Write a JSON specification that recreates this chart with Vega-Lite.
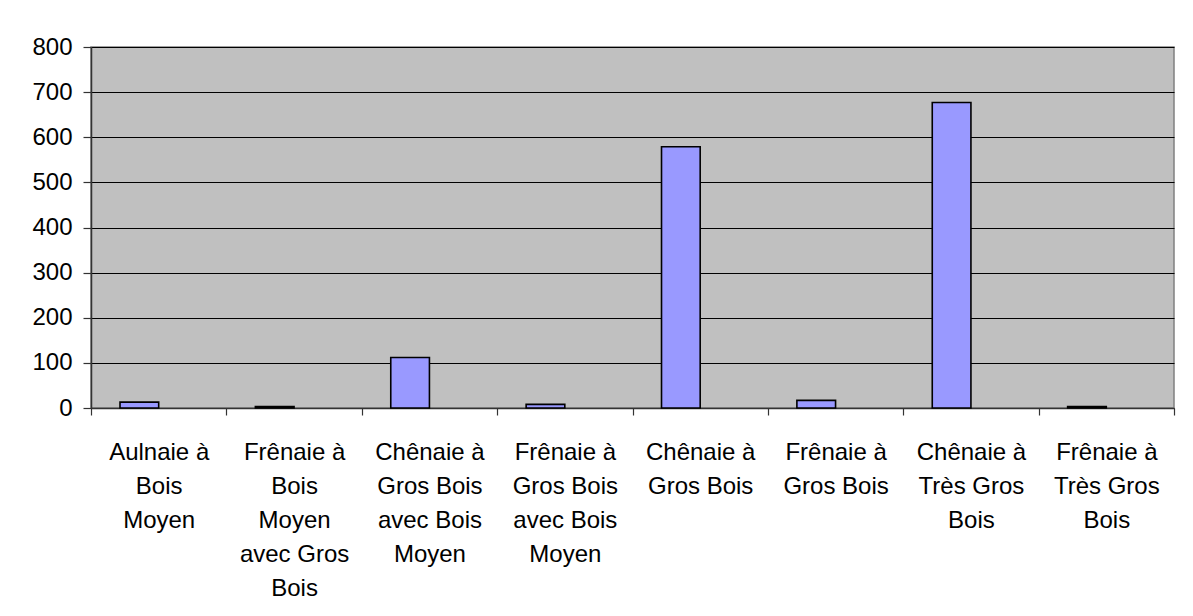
{
  "$schema": "https://vega.github.io/schema/vega-lite/v6.json",
  "autosize": {"type": "none"},
  "width": 1083,
  "height": 361,
  "padding": {"left": 91, "top": 47, "right": 19, "bottom": 208},
  "background": "white",
  "config": {
    "view": {"fill": "#C0C0C0", "stroke": "#808080", "strokeWidth": 1.5},
    "font": "Liberation Sans"
  },
  "data": {
    "values": [
      {"formation": "Aulnaie à Bois Moyen", "valeur": 13},
      {"formation": "Frênaie à Bois Moyen avec Gros Bois", "valeur": 3},
      {"formation": "Chênaie à Gros Bois avec Bois Moyen", "valeur": 112},
      {"formation": "Frênaie à Gros Bois avec Bois Moyen", "valeur": 8},
      {"formation": "Chênaie à Gros Bois", "valeur": 579},
      {"formation": "Frênaie à Gros Bois", "valeur": 17},
      {"formation": "Chênaie à Très Gros Bois", "valeur": 677},
      {"formation": "Frênaie à Très Gros Bois", "valeur": 3}
    ]
  },
  "mark": {"type": "bar", "fill": "#9999FF", "stroke": "#000000", "strokeWidth": 1.6},
  "encoding": {
    "x": {
      "field": "formation",
      "type": "nominal",
      "sort": null,
      "scale": {"paddingInner": 0, "paddingOuter": 0},
      "axis": {
        "title": null,
        "labelAngle": 0,
        "tickBand": "extent",
        "grid": false,
        "domain": true,
        "domainColor": "#333333",
        "domainWidth": 1.5,
        "tickColor": "#333333",
        "tickSize": 7,
        "tickWidth": 1.2,
        "labelPadding": 25,
        "labelFont": "Liberation Sans",
        "labelFontSize": 24,
        "labelColor": "#000000",
        "labelLineHeight": 34.2,
        "labelBaseline": "top",
        "labelLimit": 200,
        "labelExpr": "datum.value == 'Aulnaie à Bois Moyen' ? ['Aulnaie à','Bois','Moyen'] : datum.value == 'Frênaie à Bois Moyen avec Gros Bois' ? ['Frênaie à','Bois','Moyen','avec Gros','Bois'] : datum.value == 'Chênaie à Gros Bois avec Bois Moyen' ? ['Chênaie à','Gros Bois','avec Bois','Moyen'] : datum.value == 'Frênaie à Gros Bois avec Bois Moyen' ? ['Frênaie à','Gros Bois','avec Bois','Moyen'] : datum.value == 'Chênaie à Gros Bois' ? ['Chênaie à','Gros Bois'] : datum.value == 'Frênaie à Gros Bois' ? ['Frênaie à','Gros Bois'] : datum.value == 'Chênaie à Très Gros Bois' ? ['Chênaie à','Très Gros','Bois'] : datum.value == 'Frênaie à Très Gros Bois' ? ['Frênaie à','Très Gros','Bois'] : ''"
      }
    },
    "xOffset": {
      "datum": "s1",
      "scale": {"domain": ["s1", "s2"], "paddingInner": 0, "paddingOuter": 0.75}
    },
    "y": {
      "field": "valeur",
      "type": "quantitative",
      "scale": {"domain": [0, 800], "nice": false, "zero": true},
      "axis": {
        "title": null,
        "values": [0, 100, 200, 300, 400, 500, 600, 700, 800],
        "grid": true,
        "gridColor": "#000000",
        "gridWidth": 1.2,
        "gridOpacity": 1,
        "domain": true,
        "domainColor": "#333333",
        "domainWidth": 1.5,
        "tickColor": "#333333",
        "tickSize": 8,
        "tickWidth": 1.2,
        "labelPadding": 11,
        "labelFont": "Liberation Sans",
        "labelFontSize": 24,
        "labelColor": "#000000"
      }
    }
  }
}
